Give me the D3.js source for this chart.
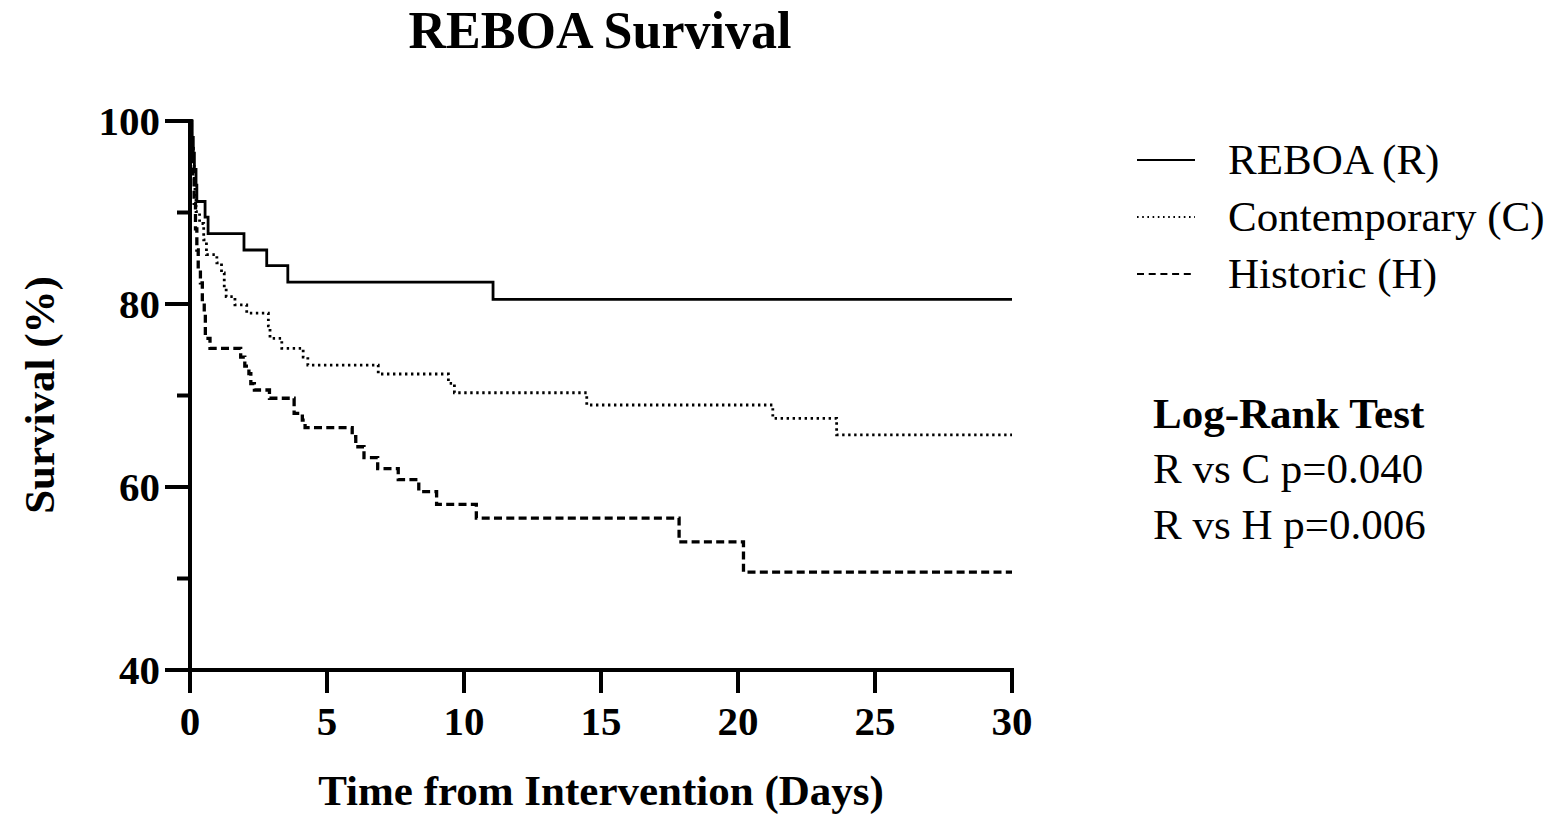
<!DOCTYPE html>
<html>
<head>
<meta charset="utf-8">
<script src="https://cdn.jsdelivr.net/npm/d3@7"></script>
<style>
  html, body { margin: 0; padding: 0; background: #fff; }
  svg { display: block; }
  text { font-family: "Liberation Serif", "Times New Roman", serif; fill: #000; }
</style>
</head>
<body>
<svg id="chart" width="1557" height="815"></svg>
<script>
// ---- Data ----
const title = "REBOA Survival";
const xLabel = "Time from Intervention (Days)";
const yLabel = "Survival (%)";
const xTicks = [0, 5, 10, 15, 20, 25, 30];
const yMajorTicks = [40, 60, 80, 100];
const yMinorTicks = [50, 70, 90];

const seriesNames = ["REBOA (R)", "Contemporary (C)", "Historic (H)"];

// REBOA (solid)
const rebTimes = [0, 0.08, 0.12, 0.16, 0.22, 0.25, 0.55, 0.66, 1.97, 2.8, 3.57, 11.06, 30];
const rebSurv  = [100, 98.2, 96.5, 94.7, 93.0, 91.2, 89.5, 87.7, 85.9, 84.2, 82.4, 80.5, 80.5];

// Contemporary (dotted)
const conTimes = [0, 0.04, 0.08, 0.12, 0.15, 0.18, 0.22, 0.35, 0.5, 0.6, 0.98, 1.15, 1.25, 1.32, 1.64, 2.07, 2.86, 2.92, 3.35, 4.13, 4.3, 6.87, 9.43, 9.65, 14.48, 21.27, 23.6, 30];
const conSurv  = [100, 98.5, 97, 95.5, 93.5, 91.8, 90.1, 88.8, 87, 85.4, 84.5, 83.4, 81.8, 80.8, 79.9, 79.0, 77.6, 76.25, 75.16, 74.2, 73.33, 72.35, 71.33, 70.3, 68.96, 67.5, 65.7, 65.7];

// Historic (dashed)
const hisTimes = [0, 0.05, 0.1, 0.15, 0.2, 0.25, 0.3, 0.38, 0.45, 0.52, 0.56, 0.73, 1.85, 2.0, 2.15, 2.22, 2.35, 2.9, 3.8, 4.1, 4.2, 5.92, 6.05, 6.35, 6.85, 7.6, 8.35, 9.0, 10.45, 17.85, 20.2, 30];
const hisSurv  = [100, 97, 94, 91, 88.2, 85.9, 83.7, 82.3, 80.1, 79.0, 76.25, 75.16, 74.2, 73.2, 72.4, 71.3, 70.6, 69.7, 68.05, 67.3, 66.5, 65.5, 64.4, 63.2, 62.0, 60.8, 59.5, 58.1, 56.6, 54.0, 50.7, 50.7];

const testTitle = "Log-Rank Test";
const testLines = ["R vs C p=0.040", "R vs H p=0.006"];

// ---- Build ----
const svg = d3.select("#chart");
const x = d3.scaleLinear().domain([0, 30]).range([190, 1012]);
const y = d3.scaleLinear().domain([40, 100]).range([670, 121]);

const styles = [
  { width: 2.8, dash: null },
  { width: 2.8, dash: "2.4,3.6" },
  { width: 3.3, dash: "8,4.3" }
];

const series = [
  { name: seriesNames[0], pts: rebTimes.map((t, i) => [t, rebSurv[i]]) },
  { name: seriesNames[1], pts: conTimes.map((t, i) => [t, conSurv[i]]) },
  { name: seriesNames[2], pts: hisTimes.map((t, i) => [t, hisSurv[i]]) }
];

const line = d3.line().x(d => x(d[0])).y(d => y(d[1])).curve(d3.curveStepAfter);

// Title
svg.append("text").attr("x", 600).attr("y", 48).attr("text-anchor", "middle")
  .attr("font-size", 52).attr("font-weight", "bold").text(title);

// Curves
series.forEach((s, i) => {
  svg.append("path").datum(s.pts).attr("d", line)
    .attr("fill", "none").attr("stroke", "#000")
    .attr("stroke-width", styles[i].width)
    .attr("stroke-dasharray", styles[i].dash);
});

// Y axis
const yAxisG = svg.append("g");
yAxisG.append("line").attr("x1", x(0)).attr("x2", x(0)).attr("y1", y(100) - 2).attr("y2", y(40) + 2)
  .attr("stroke", "#000").attr("stroke-width", 4);
yMajorTicks.forEach(v => {
  yAxisG.append("line").attr("x1", x(0) - 25).attr("x2", x(0)).attr("y1", y(v)).attr("y2", y(v))
    .attr("stroke", "#000").attr("stroke-width", 4);
  yAxisG.append("text").attr("x", x(0) - 30).attr("y", y(v)).attr("dy", "0.35em")
    .attr("text-anchor", "end").attr("font-size", 41).attr("font-weight", "bold").text(v);
});
yMinorTicks.forEach(v => {
  yAxisG.append("line").attr("x1", x(0) - 13).attr("x2", x(0)).attr("y1", y(v)).attr("y2", y(v))
    .attr("stroke", "#000").attr("stroke-width", 4);
});

// X axis
const xAxisG = svg.append("g");
xAxisG.append("line").attr("x1", x(0) - 2).attr("x2", x(30) + 2).attr("y1", y(40)).attr("y2", y(40))
  .attr("stroke", "#000").attr("stroke-width", 4);
xTicks.forEach(v => {
  xAxisG.append("line").attr("x1", x(v)).attr("x2", x(v)).attr("y1", y(40)).attr("y2", y(40) + 23)
    .attr("stroke", "#000").attr("stroke-width", 4);
  xAxisG.append("text").attr("x", x(v)).attr("y", 735).attr("text-anchor", "middle")
    .attr("font-size", 41).attr("font-weight", "bold").text(v);
});

// Axis titles
svg.append("text").attr("x", 601).attr("y", 805).attr("text-anchor", "middle")
  .attr("font-size", 43).attr("font-weight", "bold").text(xLabel);
svg.append("text").attr("transform", "translate(54,395) rotate(-90)").attr("text-anchor", "middle")
  .attr("font-size", 43).attr("font-weight", "bold").text(yLabel);

// Legend
const legY = [160, 217, 274];
series.forEach((s, i) => {
  svg.append("line").attr("x1", 1137).attr("x2", 1195).attr("y1", legY[i]).attr("y2", legY[i])
    .attr("stroke", "#000")
    .attr("stroke-width", i === 1 ? 1.8 : 2)
    .attr("stroke-dasharray", i === 0 ? null : (i === 1 ? "1.6,3.6" : "7,4.7"));
  svg.append("text").attr("x", 1228).attr("y", legY[i] + 14).attr("font-size", 43).text(s.name);
});

// Log-rank test
svg.append("text").attr("x", 1153).attr("y", 428).attr("font-size", 43).attr("font-weight", "bold").text(testTitle);
testLines.forEach((t, i) => {
  svg.append("text").attr("x", 1153).attr("y", 483 + i * 56).attr("font-size", 43).text(t);
});
</script>
</body>
</html>
